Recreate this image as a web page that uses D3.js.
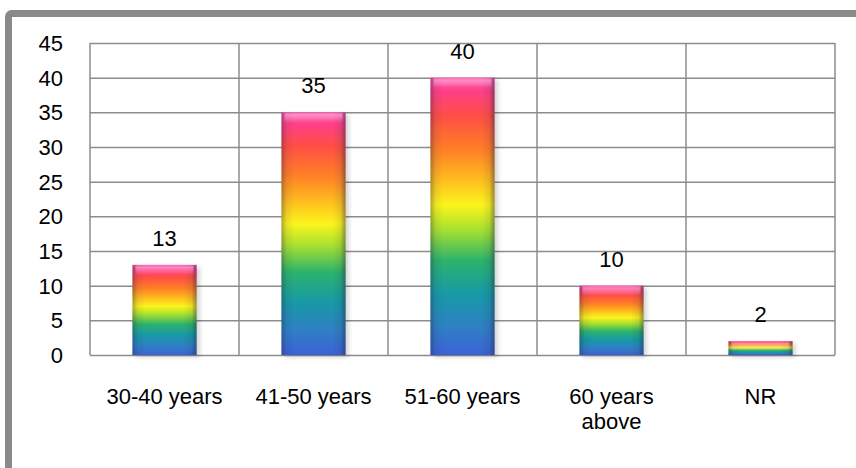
<!DOCTYPE html>
<html>
<head>
<meta charset="utf-8">
<script src="https://cdn.jsdelivr.net/npm/d3@7/dist/d3.min.js"></script>
<style>
  html, body { margin: 0; padding: 0; background: #ffffff; }
  svg { display: block; }
  text { font-family: "Liberation Sans", Arial, sans-serif; fill: #000; }
</style>
</head>
<body>
<svg id="chart" width="856" height="468"></svg>
<script>
// Respondents by age group
const categories = ["30-40 years", "41-50 years", "51-60 years", "60 years|above", "NR"];
const values = [13, 35, 40, 10, 2];
const yTicks = [0, 5, 10, 15, 20, 25, 30, 35, 40, 45];

const W = 856, H = 468;
const margin = { left: 90, top: 43, right: 21, bottom: 113 };
const plotW = W - margin.left - margin.right;
const plotH = H - margin.top - margin.bottom;
const fontSize = 22;

const svg = d3.select("#chart");
const defs = svg.append("defs");

// Rainbow fill running bottom (blue) to top (pink) of each bar
const rainbow = defs.append("linearGradient")
  .attr("id", "rainbow").attr("x1", 0).attr("y1", 1).attr("x2", 0).attr("y2", 0);
[
  [0.00, "#3b62d6"], [0.10, "#2f7fc4"], [0.22, "#179aa6"], [0.34, "#2cb26c"],
  [0.45, "#a6e030"], [0.54, "#fbf51c"], [0.64, "#ffb81e"], [0.74, "#ff7f26"],
  [0.86, "#ff4f44"], [0.95, "#ff3f86"], [1.00, "#ff5fb0"]
].forEach(([o, c]) => rainbow.append("stop").attr("offset", o).attr("stop-color", c));

// Darkened side edges for a rounded look
const sides = defs.append("linearGradient")
  .attr("id", "sides").attr("x1", 0).attr("y1", 0).attr("x2", 1).attr("y2", 0);
[
  [0.00, 0.35], [0.08, 0.08], [0.2, 0], [0.8, 0], [0.92, 0.1], [1.00, 0.45]
].forEach(([o, a]) => sides.append("stop").attr("offset", o).attr("stop-color", "#202040").attr("stop-opacity", a));

// Bright band along the top of each bar
const cap = defs.append("linearGradient")
  .attr("id", "cap").attr("x1", 0).attr("y1", 0).attr("x2", 0).attr("y2", 1);
[[0, 0.0], [0.25, 0.45], [0.6, 0.25], [1, 0]]
  .forEach(([o, a]) => cap.append("stop").attr("offset", o).attr("stop-color", "#ffd0f0").attr("stop-opacity", a));

const shadow = defs.append("filter").attr("id", "shadow")
  .attr("x", "-20%").attr("y", "-20%").attr("width", "140%").attr("height", "140%");
shadow.append("feGaussianBlur").attr("stdDeviation", 2.5);

// Outer frame
svg.append("rect")
  .attr("x", 8.5).attr("y", 13.5)
  .attr("width", W + 20).attr("height", H + 20)
  .attr("rx", 3)
  .attr("fill", "none").attr("stroke", "#8a8a8a").attr("stroke-width", 7);

const g = svg.append("g").attr("transform", `translate(${margin.left},${margin.top})`);

const x = d3.scaleBand().domain(categories).range([0, plotW]).paddingInner(0).paddingOuter(0);
const y = d3.scaleLinear().domain([0, 45]).range([plotH, 0]);
const barW = x.bandwidth() * 0.43;

// Horizontal gridlines
g.append("g")
  .call(d3.axisLeft(y).tickValues(yTicks).tickSize(-plotW).tickFormat(""))
  .call(a => a.select(".domain").remove())
  .call(a => a.selectAll("line").attr("stroke", "#8c8c8c").attr("stroke-width", 1.5));

// Vertical category separators
g.append("g").selectAll("line")
  .data(d3.range(categories.length + 1))
  .join("line")
  .attr("x1", i => i * x.step()).attr("x2", i => i * x.step())
  .attr("y1", 0).attr("y2", plotH)
  .attr("stroke", "#8c8c8c").attr("stroke-width", 1.5);

// Y tick labels
g.append("g").selectAll("text")
  .data(yTicks)
  .join("text")
  .attr("x", -27).attr("y", d => y(d))
  .attr("dy", "0.36em")
  .attr("text-anchor", "end")
  .attr("font-size", fontSize)
  .text(d => d);

// Bars
const bars = g.append("g").selectAll("g")
  .data(categories.map((c, i) => ({ c, v: values[i] })))
  .join("g")
  .attr("transform", d => `translate(${x(d.c) + (x.bandwidth() - barW) / 2},${y(d.v)})`);

bars.append("rect")
  .attr("x", 3).attr("y", 2)
  .attr("width", barW).attr("height", d => plotH - y(d.v))
  .attr("fill", "#000").attr("opacity", 0.18)
  .attr("filter", "url(#shadow)");
bars.append("rect")
  .attr("width", barW).attr("height", d => plotH - y(d.v))
  .attr("fill", "url(#rainbow)");
bars.append("rect")
  .attr("width", barW).attr("height", d => plotH - y(d.v))
  .attr("fill", "url(#sides)");
bars.append("rect")
  .attr("x", 3).attr("width", barW - 6)
  .attr("height", d => Math.min(10, plotH - y(d.v)))
  .attr("fill", "url(#cap)");

// Value labels
g.append("g").selectAll("text")
  .data(categories.map((c, i) => ({ c, v: values[i] })))
  .join("text")
  .attr("x", d => x(d.c) + x.bandwidth() / 2)
  .attr("y", d => y(d.v) - 19)
  .attr("text-anchor", "middle")
  .attr("font-size", fontSize)
  .text(d => d.v);

// Category labels, one text element per line (| marks a line break)
const catG = g.append("g");
categories.forEach(d => {
  d.split("|").forEach((line, i) => {
    catG.append("text")
      .attr("x", x(d) + x.bandwidth() / 2)
      .attr("y", plotH + 49 + i * 25)
      .attr("text-anchor", "middle")
      .attr("font-size", fontSize)
      .text(line);
  });
});
</script>
</body>
</html>
